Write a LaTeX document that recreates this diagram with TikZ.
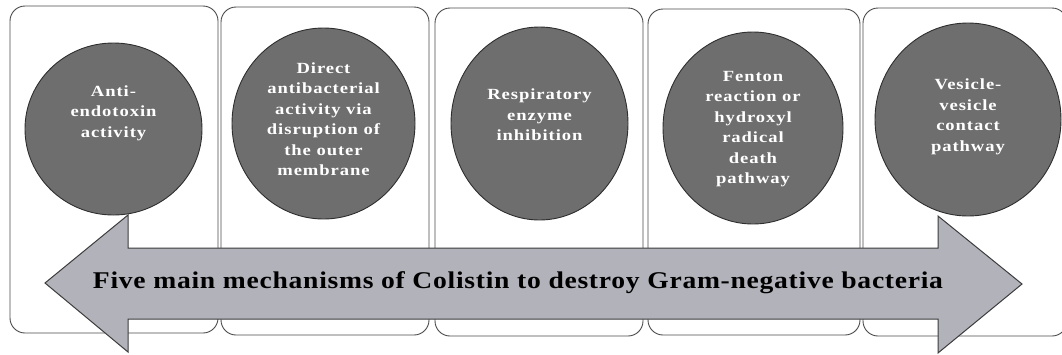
\documentclass[tikz,border=0pt]{standalone}
\usepackage{fontspec}
\setmainfont{Liberation Serif}
\newfontfamily\circfont{Liberation Serif}[FakeStretch=1.2,LetterSpace=6]
\newfontfamily\arrfont{Liberation Serif}[FakeStretch=1.15,LetterSpace=3]
\usetikzlibrary{shapes.geometric}
\definecolor{boxline}{HTML}{4A4A4A}
\definecolor{circfill}{HTML}{6E6E6E}
\definecolor{circline}{HTML}{2E2E2E}
\definecolor{arrfill}{HTML}{B1B2BA}
\definecolor{arrline}{HTML}{3C3C3C}
\tikzset{
  panel/.style={draw=boxline, line width=0.9pt, rounded corners=15pt},
  blob/.style={ellipse, draw=circline, line width=0.9pt, fill=circfill, inner sep=0pt},
  blobtext/.style={text=white, align=center, font=\circfont\bfseries\fontsize{15.5}{20.5}\selectfont},
  bigarrow/.style={draw=arrline, line width=1pt, fill=arrfill, line join=miter},
  arrtext/.style={text=black, font=\arrfont\bfseries\fontsize{24}{28}\selectfont}
}
\begin{document}
\begin{tikzpicture}[x=1pt,y=-1pt]
\useasboundingbox (0,0) rectangle (1062,354);
% panels
\draw[panel] (10,6) rectangle (218,333);
\draw[panel] (221,7) rectangle (429,335);
\draw[panel] (435,8) rectangle (643,336);
\draw[panel] (648,9) rectangle (860,335);
\draw[panel] (863,8) rectangle (1067,336);
% circles
\node[blob, minimum width=177pt, minimum height=172pt] (c1) at (113.5,129) {};
\node[blob, minimum width=183pt, minimum height=191pt] (c2) at (323.5,123.5) {};
\node[blob, minimum width=177pt, minimum height=193pt] (c3) at (539.5,123.5) {};
\node[blob, minimum width=180pt, minimum height=192pt] (c4) at (753,128) {};
\node[blob, minimum width=186pt, minimum height=193pt] (c5) at (968,119.5) {};
\node[blobtext] (t1) at (113.5,113) {Anti-\\endotoxin\\activity};
\node[blobtext] (t2) at (323.5,119) {Direct\\antibacterial\\activity via\\disruption of\\the outer\\membrane};
\node[blobtext] (t3) at (539.5,115) {Respiratory\\enzyme\\inhibition};
\node[blobtext] (t4) at (753,129) {Fenton\\reaction or\\hydroxyl\\radical\\death\\pathway};
\node[blobtext] (t5) at (968,117) {Vesicle-\\vesicle\\contact\\pathway};
% double arrow
\draw[bigarrow] (45,283) -- (128,215) -- (128,248) -- (938,248) -- (938,216) -- (1022,284)
  -- (938,353) -- (938,319) -- (128,319) -- (128,352) -- cycle;
\node[arrtext] (title) at (518,283) {Five main mechanisms of Colistin to destroy Gram-negative bacteria};
\end{tikzpicture}
\end{document}
